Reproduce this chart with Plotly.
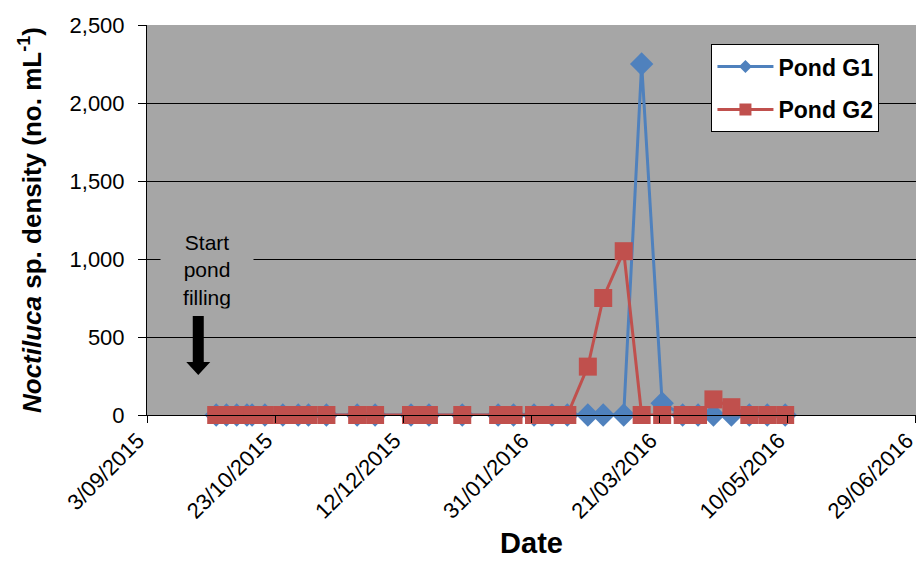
import plotly.graph_objects as go

# Sampling dates and Noctiluca sp. densities (no. mL-1) for the two ponds
dates = [
    "2015-09-30", "2015-10-04", "2015-10-08", "2015-10-12", "2015-10-14",
    "2015-10-19", "2015-10-26", "2015-11-01", "2015-11-05", "2015-11-12",
    "2015-11-24", "2015-12-01", "2015-12-15", "2015-12-22", "2016-01-04",
    "2016-01-18", "2016-01-24", "2016-02-01", "2016-02-08", "2016-02-14",
    "2016-02-22", "2016-02-28", "2016-03-07", "2016-03-14", "2016-03-22",
    "2016-03-30", "2016-04-05", "2016-04-11", "2016-04-18", "2016-04-25",
    "2016-05-02", "2016-05-09",
]
pond_g1 = [
    0, 0, 0, 0, 0, 0, 0, 0, 0, 0,
    0, 0, 0, 0, 0, 0, 0, 0, 0, 0,
    0, 0, 0, 2250, 75, 0, 0, 0, 0, 0,
    0, 0,
]
pond_g2 = [
    0, 0, 0, 0, 0, 0, 0, 0, 0, 0,
    0, 0, 0, 0, 0, 0, 0, 0, 0, 0,
    310, 750, 1050, 0, 0, 0, 0, 100, 50, 0,
    0, 0,
]

FILL_START = "2015-09-23"
X_RANGE = ["2015-09-03", "2016-06-29 01:00"]
DAY_MS = 86400000

BLUE = "#4f81bd"
RED = "#c0504d"
FONT = "Liberation Sans, Arial, sans-serif"

series = [
    ("Pond G1", pond_g1, BLUE, "diamond", 18, 10),
    ("Pond G2", pond_g2, RED, "square", 18, 12),
]

fig = go.Figure()
for name, values, color, symbol, size, _ in series:
    fig.add_trace(go.Scatter(
        x=dates, y=values, name=name, mode="lines+markers",
        showlegend=False, cliponaxis=False,
        line=dict(color=color, width=3),
        marker=dict(symbol=symbol, size=size, color=color),
    ))
# legend entries with smaller key markers
for name, _, color, symbol, _, key_size in series:
    fig.add_trace(go.Scatter(
        x=[None], y=[None], name=name, mode="lines+markers",
        legendgroup=name,
        line=dict(color=color, width=3),
        marker=dict(symbol=symbol, size=key_size, color=color),
    ))

# "Start pond filling" label with a thick downward arrow
fig.add_annotation(
    x=FILL_START, y=930, xref="x", yref="y", xshift=9,
    text="Start<br>pond<br>filling", showarrow=False, width=90,
    font=dict(family=FONT, size=21, color="black"),
    bgcolor="#a6a6a6", align="center", yanchor="middle",
)
fig.add_shape(
    type="path", xref="x", yref="y",
    xsizemode="pixel", ysizemode="pixel",
    xanchor=FILL_START, yanchor=0,
    path="M -5.5,99 L 5.5,99 L 5.5,53 L 12,53 L 0,40 L -12,53 L -5.5,53 Z",
    fillcolor="black", line=dict(width=0),
)

fig.update_layout(
    width=919, height=566,
    margin=dict(l=147, r=3, t=25, b=151),
    paper_bgcolor="white", plot_bgcolor="#a6a6a6",
    font=dict(family=FONT, size=20, color="black"),
    showlegend=True,
    legend=dict(
        x=0.734, y=0.951, xanchor="left", yanchor="top",
        bgcolor="white", bordercolor="black", borderwidth=1,
        font=dict(family=FONT, size=23, color="black", weight="bold"),
        tracegroupgap=10, itemwidth=56,
    ),
)
fig.update_xaxes(
    type="date", range=X_RANGE, automargin=False,
    tick0="2015-09-03", dtick=50 * DAY_MS, tickformat="%-d/%m/%Y",
    tickangle=-45, ticks="outside", ticklen=7, tickcolor="black",
    ticklabeloverflow="allow", ticklabelshift=-9, ticklabelstandoff=-4,
    tickfont=dict(family=FONT, size=22, color="black"),
    showgrid=False, showline=True, linecolor="black", linewidth=1,
    zeroline=False,
    title=dict(text="<b>Date</b>", font=dict(family=FONT, size=29, color="black"), standoff=10),
)
fig.update_yaxes(
    range=[0, 2500], dtick=500, tickformat=",", automargin=False,
    ticks="outside", ticklen=8, tickcolor="black", ticklabelstandoff=9,
    tickfont=dict(family=FONT, size=22, color="black"),
    showgrid=True, gridcolor="black", gridwidth=1,
    showline=True, linecolor="black", linewidth=1,
    zeroline=False,
    title=dict(
        text="<b><i>Noctiluca</i> sp. density (no. mL<sup>-1</sup>)</b>",
        font=dict(family=FONT, size=26, color="black"), standoff=20,
    ),
)

fig.write_html("out.html")
